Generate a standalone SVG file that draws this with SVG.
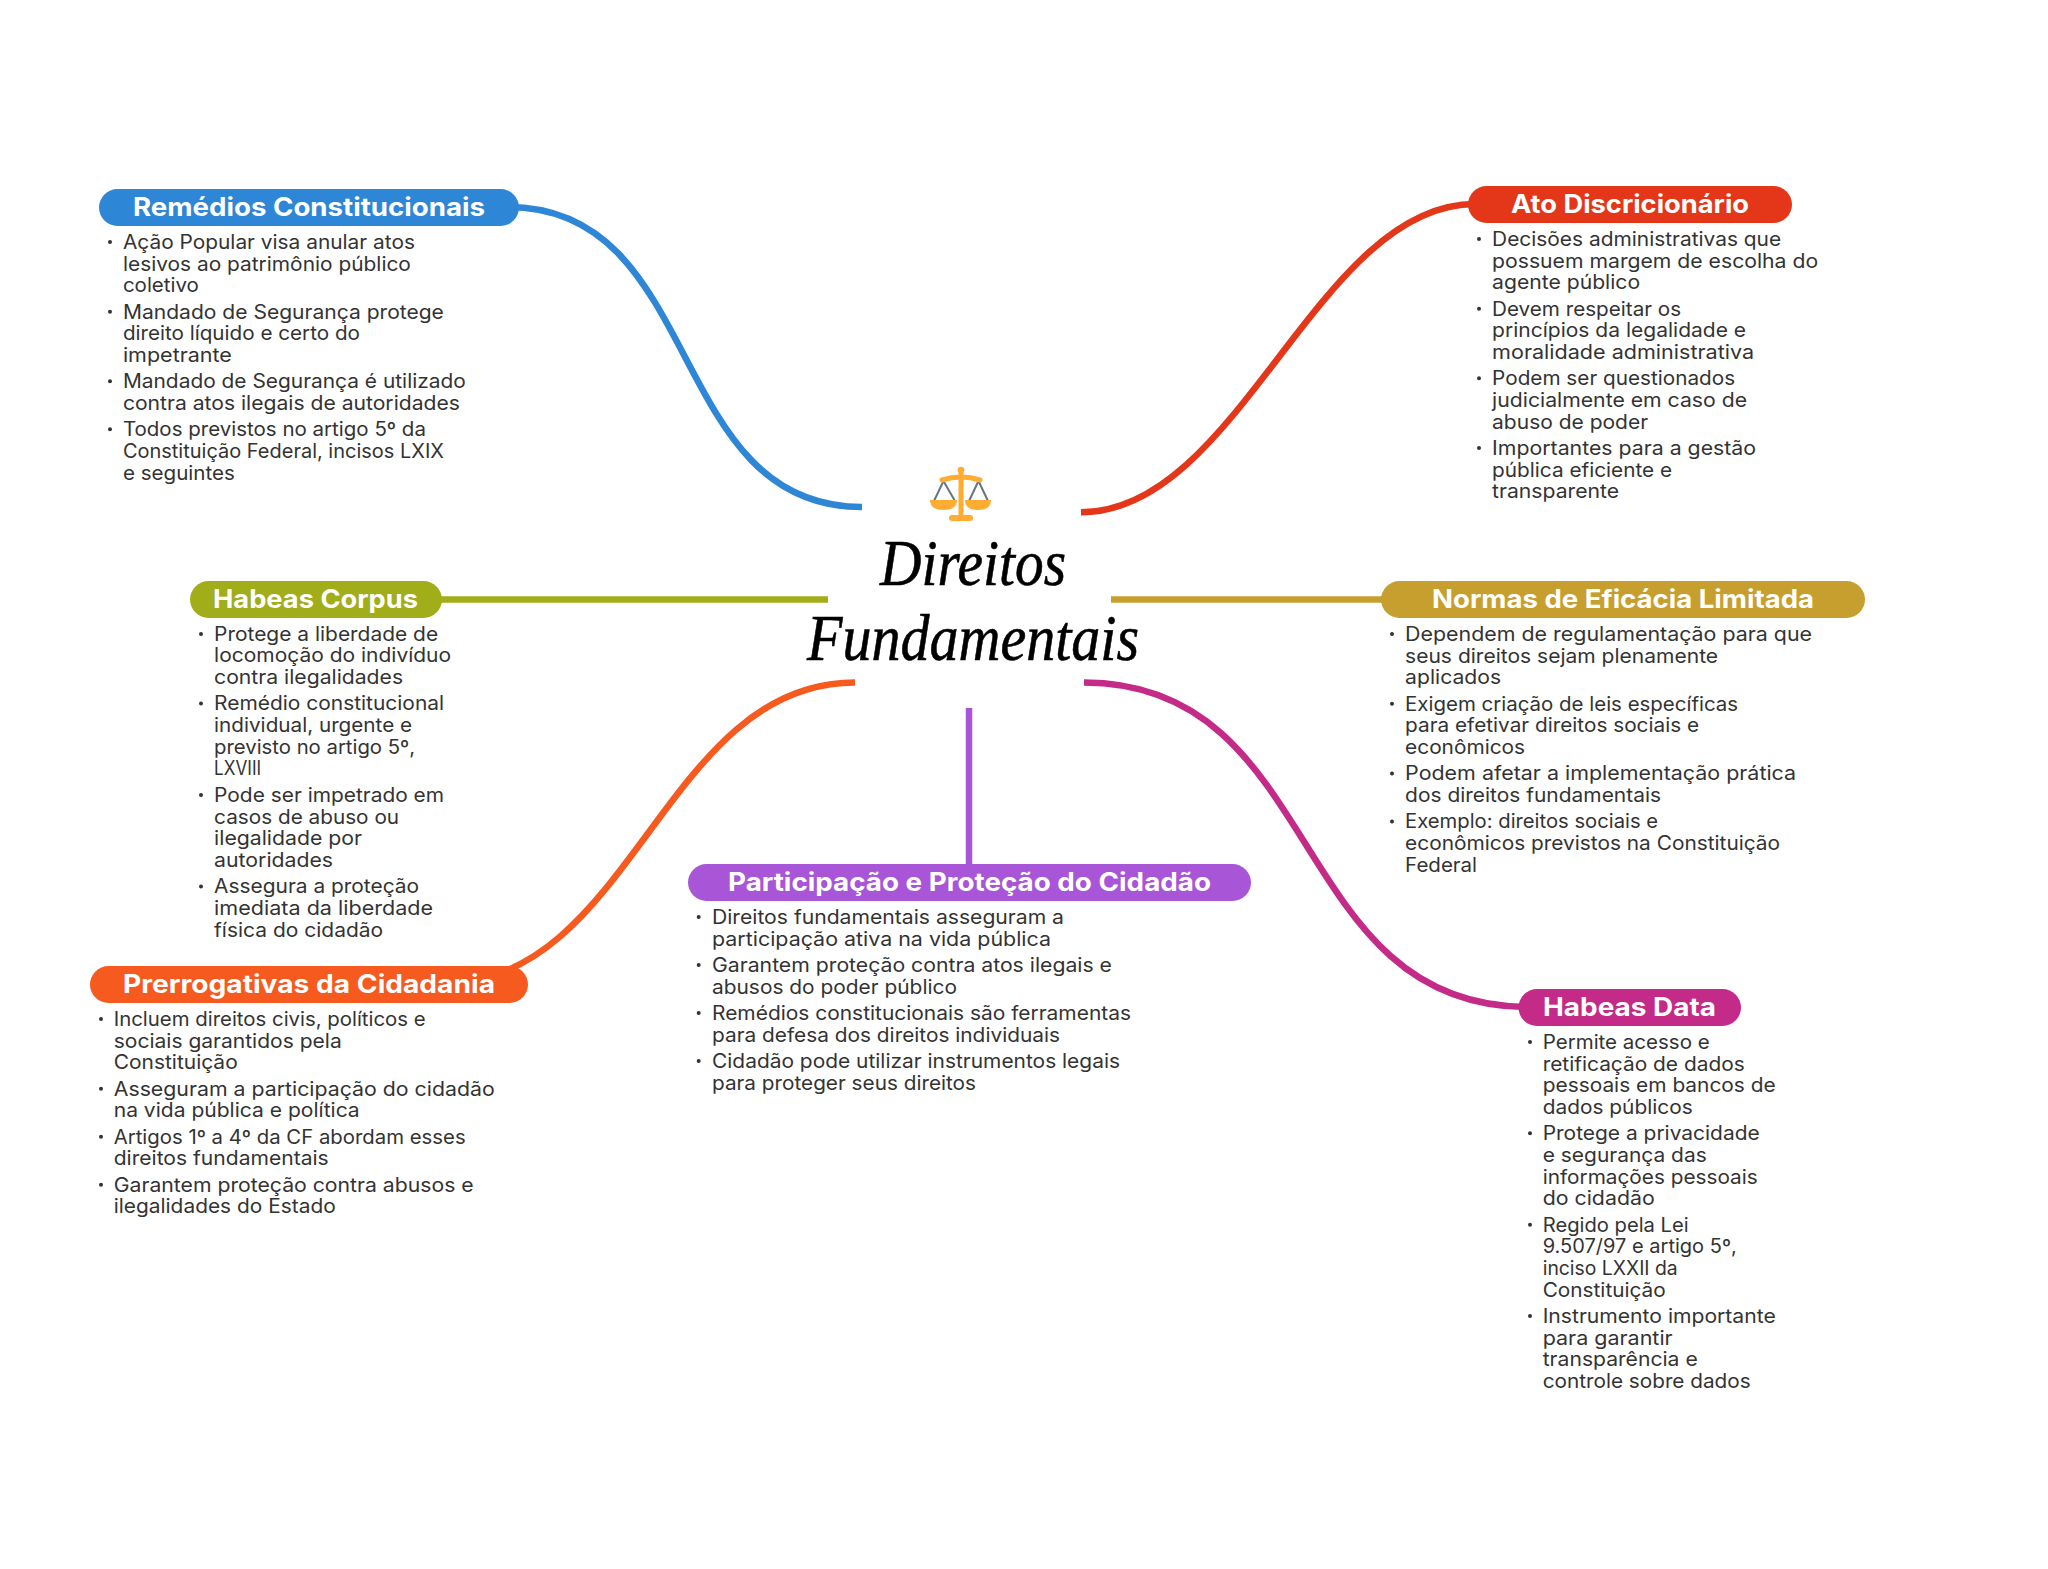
<svg xmlns="http://www.w3.org/2000/svg" width="2048" height="1569" viewBox="0 0 2048 1569">
<style>
.b{font-family:"Inter","Liberation Sans",sans-serif;font-size:19.5px;fill:#333;}
.t{font-family:"Inter","Liberation Sans",sans-serif;font-size:25.5px;font-weight:700;fill:#fff;}
.h{font-family:"Liberation Serif",serif;font-style:italic;font-size:66px;fill:#000;stroke:#000;stroke-width:.6;}
.c{fill:none;stroke-width:6.5;}
.d{fill:#333;}
</style>
<rect width="2048" height="1569" fill="#fff"/>
<g id="connectors">
<path class="c" stroke="#2E86D6" d="M508,207 C705,207 665,507 862,507"/>
<path class="c" stroke="#E43719" d="M1081,512.3 C1239,512.3 1317,204 1475,204"/>
<path class="c" stroke="#A2AD1A" d="M435,599.5 L828,599.5"/>
<path class="c" stroke="#C79F2E" d="M1111,599.5 L1390,599.5"/>
<path class="c" stroke="#F65A1E" d="M855,682.5 C663,682.5 633,984 441,984"/>
<path class="c" stroke="#A855D8" d="M969,708 L969,870"/>
<path class="c" stroke="#C42A87" d="M1084,682.5 C1325,682.5 1287,1007 1528,1007"/>
</g>
<g id="center">
<g id="icon">
<g stroke="#66757F" stroke-width="2" fill="none"><path d="M943,482 L934,501 M944,482 L955,501 M978,482 L969,501 M979,482 L988,501"/></g>
<path d="M942,480 Q961,474 980,480" stroke="#FFAC33" stroke-width="5" fill="none" stroke-linecap="round"/>
<circle cx="961" cy="470" r="3.3" fill="#FFAC33"/>
<rect x="958.5" y="470" width="5" height="47" fill="#FFAC33"/>
<rect x="949" y="515" width="24" height="6" rx="3" fill="#FFAC33"/>
<path d="M930,500 H957 Q957,510 943.5,510 Q930,510 930,500 Z" fill="#FFAC33"/>
<path d="M965,500 H991 Q991,510 978,510 Q965,510 965,500 Z" fill="#FFAC33"/>
</g>
<text class="h" x="880" y="585" textLength="186" lengthAdjust="spacingAndGlyphs">Direitos</text>
<text class="h" x="807" y="660" textLength="332" lengthAdjust="spacingAndGlyphs">Fundamentais</text>
</g>
<g id="remedios">
<rect x="99" y="189" width="420" height="37" rx="18.5" fill="#2E86D6"/>
<text class="t" x="133" y="215.5" textLength="352" lengthAdjust="spacingAndGlyphs">Remédios Constitucionais</text>
<circle class="d" cx="110" cy="242" r="2"/><circle class="d" cx="110" cy="311.7" r="2"/><circle class="d" cx="110" cy="381.3" r="2"/><circle class="d" cx="110" cy="429.3" r="2"/>
<g class="b" transform="translate(-0.6 0)">
<text x="123.5" y="249" textLength="292" lengthAdjust="spacingAndGlyphs">Ação Popular visa anular atos</text>
<text x="123.5" y="270.7" textLength="288" lengthAdjust="spacingAndGlyphs">lesivos ao patrimônio público</text>
<text x="123.5" y="292.3" textLength="76" lengthAdjust="spacingAndGlyphs">coletivo</text>
<text x="123.5" y="318.7" textLength="321" lengthAdjust="spacingAndGlyphs">Mandado de Segurança protege</text>
<text x="123.5" y="340.3" textLength="237" lengthAdjust="spacingAndGlyphs">direito líquido e certo do</text>
<text x="123.5" y="362" textLength="109" lengthAdjust="spacingAndGlyphs">impetrante</text>
<text x="123.5" y="388.3" textLength="343" lengthAdjust="spacingAndGlyphs">Mandado de Segurança é utilizado</text>
<text x="123.5" y="410" textLength="337" lengthAdjust="spacingAndGlyphs">contra atos ilegais de autoridades</text>
<text x="123.5" y="436.3" textLength="303" lengthAdjust="spacingAndGlyphs">Todos previstos no artigo 5º da</text>
<text x="123.5" y="458" textLength="321" lengthAdjust="spacingAndGlyphs">Constituição Federal, incisos LXIX</text>
<text x="123.5" y="479.7" textLength="112" lengthAdjust="spacingAndGlyphs">e seguintes</text>
</g>
</g>
<g id="ato">
<rect x="1468" y="186" width="324" height="37" rx="18.5" fill="#E43719"/>
<text class="t" x="1511" y="212.7" textLength="238" lengthAdjust="spacingAndGlyphs">Ato Discricionário</text>
<circle class="d" cx="1479" cy="239" r="2"/><circle class="d" cx="1479" cy="308.7" r="2"/><circle class="d" cx="1479" cy="378.3" r="2"/><circle class="d" cx="1479" cy="448" r="2"/>
<g class="b" transform="translate(-0.6 0)">
<text x="1492.7" y="246" textLength="289" lengthAdjust="spacingAndGlyphs">Decisões administrativas que</text>
<text x="1492.7" y="267.7" textLength="326" lengthAdjust="spacingAndGlyphs">possuem margem de escolha do</text>
<text x="1492.7" y="289.3" textLength="148" lengthAdjust="spacingAndGlyphs">agente público</text>
<text x="1492.7" y="315.7" textLength="189" lengthAdjust="spacingAndGlyphs">Devem respeitar os</text>
<text x="1492.7" y="337.4" textLength="254" lengthAdjust="spacingAndGlyphs">princípios da legalidade e</text>
<text x="1492.7" y="359" textLength="262" lengthAdjust="spacingAndGlyphs">moralidade administrativa</text>
<text x="1492.7" y="385.3" textLength="243" lengthAdjust="spacingAndGlyphs">Podem ser questionados</text>
<text x="1492.7" y="407" textLength="255" lengthAdjust="spacingAndGlyphs">judicialmente em caso de</text>
<text x="1492.7" y="428.7" textLength="156" lengthAdjust="spacingAndGlyphs">abuso de poder</text>
<text x="1492.7" y="455" textLength="264" lengthAdjust="spacingAndGlyphs">Importantes para a gestão</text>
<text x="1492.7" y="476.7" textLength="180" lengthAdjust="spacingAndGlyphs">pública eficiente e</text>
<text x="1492.7" y="498.4" textLength="127" lengthAdjust="spacingAndGlyphs">transparente</text>
</g>
</g>
<g id="habeas-corpus">
<rect x="190" y="581" width="252" height="37" rx="18.5" fill="#A2AD1A"/>
<text class="t" x="213" y="607.5" textLength="205" lengthAdjust="spacingAndGlyphs">Habeas Corpus</text>
<circle class="d" cx="201" cy="634" r="2"/><circle class="d" cx="201" cy="703.5" r="2"/><circle class="d" cx="201" cy="795" r="2"/><circle class="d" cx="201" cy="886.5" r="2"/>
<g class="b" transform="translate(-0.6 0)">
<text x="214.7" y="640.7" textLength="224" lengthAdjust="spacingAndGlyphs">Protege a liberdade de</text>
<text x="214.7" y="662.4" textLength="237" lengthAdjust="spacingAndGlyphs">locomoção do indivíduo</text>
<text x="214.7" y="684" textLength="189" lengthAdjust="spacingAndGlyphs">contra ilegalidades</text>
<text x="214.7" y="710.3" textLength="230" lengthAdjust="spacingAndGlyphs">Remédio constitucional</text>
<text x="214.7" y="732" textLength="198" lengthAdjust="spacingAndGlyphs">individual, urgente e</text>
<text x="214.7" y="753.7" textLength="201" lengthAdjust="spacingAndGlyphs">previsto no artigo 5º,</text>
<text x="214.7" y="775.4" textLength="47" lengthAdjust="spacingAndGlyphs">LXVIII</text>
<text x="214.7" y="802" textLength="230" lengthAdjust="spacingAndGlyphs">Pode ser impetrado em</text>
<text x="214.7" y="823.7" textLength="185" lengthAdjust="spacingAndGlyphs">casos de abuso ou</text>
<text x="214.7" y="845.4" textLength="148" lengthAdjust="spacingAndGlyphs">ilegalidade por</text>
<text x="214.7" y="867" textLength="119" lengthAdjust="spacingAndGlyphs">autoridades</text>
<text x="214.7" y="893.4" textLength="205" lengthAdjust="spacingAndGlyphs">Assegura a proteção</text>
<text x="214.7" y="915" textLength="219" lengthAdjust="spacingAndGlyphs">imediata da liberdade</text>
<text x="214.7" y="936.7" textLength="169" lengthAdjust="spacingAndGlyphs">física do cidadão</text>
</g>
</g>
<g id="normas">
<rect x="1381" y="581" width="484" height="37" rx="18.5" fill="#C79F2E"/>
<text class="t" x="1432" y="607.5" textLength="382" lengthAdjust="spacingAndGlyphs">Normas de Eficácia Limitada</text>
<circle class="d" cx="1392" cy="634" r="2"/><circle class="d" cx="1392" cy="703.7" r="2"/><circle class="d" cx="1392" cy="773.5" r="2"/><circle class="d" cx="1392" cy="821.5" r="2"/>
<g class="b" transform="translate(-0.6 0)">
<text x="1405.7" y="641" textLength="407" lengthAdjust="spacingAndGlyphs">Dependem de regulamentação para que</text>
<text x="1405.7" y="662.7" textLength="313" lengthAdjust="spacingAndGlyphs">seus direitos sejam plenamente</text>
<text x="1405.7" y="684.3" textLength="96" lengthAdjust="spacingAndGlyphs">aplicados</text>
<text x="1405.7" y="710.7" textLength="333" lengthAdjust="spacingAndGlyphs">Exigem criação de leis específicas</text>
<text x="1405.7" y="732.3" textLength="294" lengthAdjust="spacingAndGlyphs">para efetivar direitos sociais e</text>
<text x="1405.7" y="754" textLength="120" lengthAdjust="spacingAndGlyphs">econômicos</text>
<text x="1405.7" y="780.3" textLength="391" lengthAdjust="spacingAndGlyphs">Podem afetar a implementação prática</text>
<text x="1405.7" y="802" textLength="256" lengthAdjust="spacingAndGlyphs">dos direitos fundamentais</text>
<text x="1405.7" y="828.3" textLength="253" lengthAdjust="spacingAndGlyphs">Exemplo: direitos sociais e</text>
<text x="1405.7" y="850" textLength="375" lengthAdjust="spacingAndGlyphs">econômicos previstos na Constituição</text>
<text x="1405.7" y="871.7" textLength="72" lengthAdjust="spacingAndGlyphs">Federal</text>
</g>
</g>
<g id="prerrogativas">
<rect x="90" y="966" width="438" height="37" rx="18.5" fill="#F65A1E"/>
<text class="t" x="123" y="992.7" textLength="372" lengthAdjust="spacingAndGlyphs">Prerrogativas da Cidadania</text>
<circle class="d" cx="101" cy="1019" r="2"/><circle class="d" cx="101" cy="1088.7" r="2"/><circle class="d" cx="101" cy="1136.7" r="2"/><circle class="d" cx="101" cy="1184.7" r="2"/>
<g class="b" transform="translate(-0.6 0)">
<text x="114.3" y="1026" textLength="312" lengthAdjust="spacingAndGlyphs">Incluem direitos civis, políticos e</text>
<text x="114.3" y="1047.7" textLength="228" lengthAdjust="spacingAndGlyphs">sociais garantidos pela</text>
<text x="114.3" y="1069.3" textLength="124" lengthAdjust="spacingAndGlyphs">Constituição</text>
<text x="114.3" y="1095.7" textLength="381" lengthAdjust="spacingAndGlyphs">Asseguram a participação do cidadão</text>
<text x="114.3" y="1117.3" textLength="246" lengthAdjust="spacingAndGlyphs">na vida pública e política</text>
<text x="114.3" y="1143.7" textLength="352" lengthAdjust="spacingAndGlyphs">Artigos 1º a 4º da CF abordam esses</text>
<text x="114.3" y="1165.3" textLength="215" lengthAdjust="spacingAndGlyphs">direitos fundamentais</text>
<text x="114.3" y="1191.7" textLength="360" lengthAdjust="spacingAndGlyphs">Garantem proteção contra abusos e</text>
<text x="114.3" y="1213.3" textLength="222" lengthAdjust="spacingAndGlyphs">ilegalidades do Estado</text>
</g>
</g>
<g id="participacao">
<rect x="688" y="864" width="563" height="37" rx="18.5" fill="#A855D8"/>
<text class="t" x="728" y="890.7" textLength="483" lengthAdjust="spacingAndGlyphs">Participação e Proteção do Cidadão</text>
<circle class="d" cx="698.7" cy="917" r="2"/><circle class="d" cx="698.7" cy="965" r="2"/><circle class="d" cx="698.7" cy="1013" r="2"/><circle class="d" cx="698.7" cy="1061" r="2"/>
<g class="b" transform="translate(-0.6 0)">
<text x="712.6" y="924" textLength="352" lengthAdjust="spacingAndGlyphs">Direitos fundamentais asseguram a</text>
<text x="712.6" y="945.7" textLength="339" lengthAdjust="spacingAndGlyphs">participação ativa na vida pública</text>
<text x="712.6" y="972" textLength="400" lengthAdjust="spacingAndGlyphs">Garantem proteção contra atos ilegais e</text>
<text x="712.6" y="993.7" textLength="245" lengthAdjust="spacingAndGlyphs">abusos do poder público</text>
<text x="712.6" y="1020" textLength="419" lengthAdjust="spacingAndGlyphs">Remédios constitucionais são ferramentas</text>
<text x="712.6" y="1041.7" textLength="348" lengthAdjust="spacingAndGlyphs">para defesa dos direitos individuais</text>
<text x="712.6" y="1068" textLength="408" lengthAdjust="spacingAndGlyphs">Cidadão pode utilizar instrumentos legais</text>
<text x="712.6" y="1089.7" textLength="264" lengthAdjust="spacingAndGlyphs">para proteger seus direitos</text>
</g>
</g>
<g id="habeas-data">
<rect x="1518.5" y="989" width="222.5" height="37" rx="18.5" fill="#C42A87"/>
<text class="t" x="1543" y="1015.7" textLength="173" lengthAdjust="spacingAndGlyphs">Habeas Data</text>
<circle class="d" cx="1530" cy="1042" r="2"/><circle class="d" cx="1530" cy="1133.3" r="2"/><circle class="d" cx="1530" cy="1224.7" r="2"/><circle class="d" cx="1530" cy="1316" r="2"/>
<g class="b" transform="translate(-0.6 0)">
<text x="1543.3" y="1049" textLength="167" lengthAdjust="spacingAndGlyphs">Permite acesso e</text>
<text x="1543.3" y="1070.7" textLength="202" lengthAdjust="spacingAndGlyphs">retificação de dados</text>
<text x="1543.3" y="1092.3" textLength="233" lengthAdjust="spacingAndGlyphs">pessoais em bancos de</text>
<text x="1543.3" y="1114" textLength="150" lengthAdjust="spacingAndGlyphs">dados públicos</text>
<text x="1543.3" y="1140.3" textLength="217" lengthAdjust="spacingAndGlyphs">Protege a privacidade</text>
<text x="1543.3" y="1162" textLength="164" lengthAdjust="spacingAndGlyphs">e segurança das</text>
<text x="1543.3" y="1183.7" textLength="215" lengthAdjust="spacingAndGlyphs">informações pessoais</text>
<text x="1543.3" y="1205.4" textLength="112" lengthAdjust="spacingAndGlyphs">do cidadão</text>
<text x="1543.3" y="1231.7" textLength="146" lengthAdjust="spacingAndGlyphs">Regido pela Lei</text>
<text x="1543.3" y="1253.4" textLength="194" lengthAdjust="spacingAndGlyphs">9.507/97 e artigo 5º,</text>
<text x="1543.3" y="1275" textLength="135" lengthAdjust="spacingAndGlyphs">inciso LXXII da</text>
<text x="1543.3" y="1296.7" textLength="123" lengthAdjust="spacingAndGlyphs">Constituição</text>
<text x="1543.3" y="1323" textLength="233" lengthAdjust="spacingAndGlyphs">Instrumento importante</text>
<text x="1543.3" y="1344.7" textLength="130" lengthAdjust="spacingAndGlyphs">para garantir</text>
<text x="1543.3" y="1366.4" textLength="155" lengthAdjust="spacingAndGlyphs">transparência e</text>
<text x="1543.3" y="1388" textLength="208" lengthAdjust="spacingAndGlyphs">controle sobre dados</text>
</g>
</g>
</svg>
